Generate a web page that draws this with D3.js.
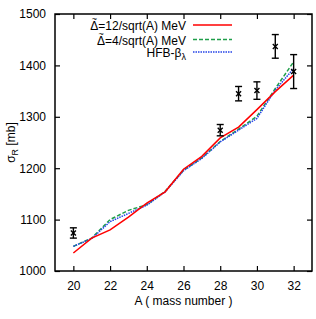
<!DOCTYPE html>
<html>
<head>
<meta charset="utf-8">
<script src="https://cdn.jsdelivr.net/npm/d3@7"></script>
<style>
  body { margin: 0; background: #fff; }
  text { font-family: "Liberation Sans", Arial, sans-serif; }
</style>
</head>
<body>
<div id="chart"></div>
<script>
// mass numbers
var massA = [20, 21, 22, 23, 24, 25, 26, 27, 28, 29, 30, 31, 32];
// Delta = 12/sqrt(A) MeV
var red12 = [1035, 1064, 1080, 1105, 1132, 1154, 1198, 1223, 1259, 1280, 1314, 1349, 1381];
// Delta = 4/sqrt(A) MeV
var green4 = [1048, 1064, 1100, 1118, 1129, 1155, 1196, 1220, 1252, 1276, 1301, 1355, 1407];
// HFB-beta_lambda
var blueHFB = [1048, 1063, 1096, 1112, 1128, 1154, 1195, 1219, 1251, 1274, 1297, 1352, 1394];

// experimental points
var expA = [20, 28, 29, 30, 31, 32];
var expVal = [1074, 1274, 1345, 1351, 1437, 1388];
var expErr = [10, 11, 14, 17, 23, 33];

var xTicks = [20, 22, 24, 26, 28, 30, 32];
var yTicks = [1000, 1100, 1200, 1300, 1400, 1500];

var W = 316, H = 319;
var pL = 55, pR = 312, pT = 14, pB = 271;

var svg = d3.select("#chart").append("svg")
  .attr("width", W).attr("height", H);

var x = d3.scaleLinear().domain([19, 33]).range([pL, pR]);
var y = d3.scaleLinear().domain([1000, 1500]).range([pB, pT]);

/* axes: ticks inside, mirrored on top and right */
svg.append("g")
  .attr("transform", `translate(0,${pB})`)
  .call(d3.axisBottom(x).tickValues(xTicks).tickSizeInner(-5).tickSizeOuter(0).tickPadding(10))
  .call(g => g.select(".domain").remove())
  .call(g => g.selectAll("text").attr("font-size", 12).attr("fill", "#000"));
svg.append("g")
  .attr("transform", `translate(0,${pT})`)
  .call(d3.axisTop(x).tickValues(xTicks).tickSizeInner(-5).tickSizeOuter(0).tickFormat(""))
  .call(g => g.select(".domain").remove());
svg.append("g")
  .attr("transform", `translate(${pL},0)`)
  .call(d3.axisLeft(y).tickValues(yTicks).tickSizeInner(-5).tickSizeOuter(0).tickPadding(9).tickFormat(d3.format("d")))
  .call(g => g.select(".domain").remove())
  .call(g => g.selectAll("text").attr("font-size", 12).attr("fill", "#000"));
svg.append("g")
  .attr("transform", `translate(${pR},0)`)
  .call(d3.axisRight(y).tickValues(yTicks).tickSizeInner(-5).tickSizeOuter(0).tickFormat(""))
  .call(g => g.select(".domain").remove());
svg.selectAll(".tick line").attr("stroke", "#000").attr("stroke-width", 1.2);

svg.append("rect")
  .attr("x", pL).attr("y", pT)
  .attr("width", pR - pL).attr("height", pB - pT)
  .attr("fill", "none").attr("stroke", "#000").attr("stroke-width", 1.5);

/* theory curves */
var line = d3.line().x((d, i) => x(massA[i])).y(d => y(d));
var series = [
  {name: "green", values: green4, color: "#1f9e4a", dash: "4,2"},
  {name: "blue", values: blueHFB, color: "#2443e8", dash: "1.5,1"},
  {name: "red", values: red12, color: "#ff0000", dash: null}
];
series.forEach(function(s) {
  svg.append("path")
    .attr("d", line(s.values))
    .attr("fill", "none")
    .attr("stroke", s.color)
    .attr("stroke-width", 1.5)
    .attr("stroke-dasharray", s.dash);
});

/* experimental data with error bars */
var pts = svg.append("g").attr("stroke", "#000").attr("stroke-width", 1.4);
expA.forEach(function(a, i) {
  var cx = x(a), cy = y(expVal[i]);
  var y0 = y(expVal[i] - expErr[i]), y1 = y(expVal[i] + expErr[i]);
  pts.append("line").attr("x1", cx).attr("x2", cx).attr("y1", y0).attr("y2", y1);
  pts.append("line").attr("x1", cx - 3.5).attr("x2", cx + 3.5).attr("y1", y0).attr("y2", y0);
  pts.append("line").attr("x1", cx - 3.5).attr("x2", cx + 3.5).attr("y1", y1).attr("y2", y1);
  pts.append("line").attr("x1", cx - 2.5).attr("x2", cx + 2.5).attr("y1", cy - 2.5).attr("y2", cy + 2.5);
  pts.append("line").attr("x1", cx - 2.5).attr("x2", cx + 2.5).attr("y1", cy + 2.5).attr("y2", cy - 2.5);
});

/* legend */
var legend = [
  {label: "=12/sqrt(A) MeV", tilde: true, color: "#ff0000", dash: null, y: 25},
  {label: "=4/sqrt(A) MeV", tilde: true, color: "#1f9e4a", dash: "4,2", y: 39.5},
  {label: "HFB-β", tilde: false, color: "#2443e8", dash: "1.5,1", y: 52}
];
legend.forEach(function(l) {
  svg.append("line")
    .attr("x1", 193).attr("x2", 232).attr("y1", l.y).attr("y2", l.y)
    .attr("stroke", l.color).attr("stroke-width", 1.5)
    .attr("stroke-dasharray", l.dash);
  var t = svg.append("text")
    .attr("x", 186).attr("y", l.y + 5)
    .attr("text-anchor", "end").attr("font-size", 12);
  if (l.tilde) {
    // Delta with a tilde on top, kept inside one text element
    t.append("tspan").text("Δ");
    t.append("tspan").attr("font-size", 9).attr("dx", -6.6).attr("dy", -8).text("~");
    t.append("tspan").attr("dx", 1.3).attr("dy", 8).text(l.label);
  } else {
    t.append("tspan").text(l.label);
    t.append("tspan").attr("font-size", 9).attr("dy", 3).text("λ");
  }
});

/* axis titles */
svg.append("text")
  .attr("x", (pL + pR) / 2).attr("y", 305)
  .attr("text-anchor", "middle").attr("font-size", 12)
  .text("A ( mass number )");

var yl = svg.append("text")
  .attr("transform", `translate(15,${(pT + pB) / 2}) rotate(-90)`)
  .attr("text-anchor", "middle").attr("font-size", 12);
yl.append("tspan").text("σ");
yl.append("tspan").attr("font-size", 9).attr("dy", 3).text("R");
yl.append("tspan").attr("dy", -3).text(" [mb]");
</script>
</body>
</html>
